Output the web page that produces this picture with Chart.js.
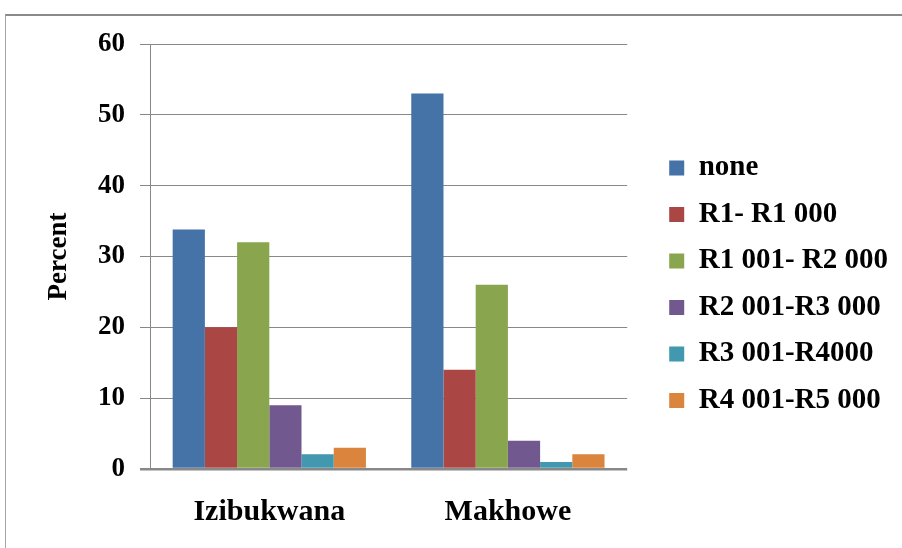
<!DOCTYPE html>
<html>
<head>
<meta charset="utf-8">
<script src="https://cdn.jsdelivr.net/npm/chart.js@4.4.1/dist/chart.umd.min.js"></script>
<style>
  html, body { margin: 0; padding: 0; background: #ffffff; overflow: hidden; }
  #frame {
    position: absolute; left: 5px; top: 14px; width: 1200px; height: 900px;
    border-top: 2px solid #8a8a8a; border-left: 1px solid #a6a6a6;
  }
  #wrap { position: absolute; left: 0; top: 0; width: 902px; height: 548px; }
</style>
</head>
<body>
<div id="frame"></div>
<div id="wrap"><canvas id="chart" width="902" height="548"></canvas></div>
<script>
// Monthly income groups by village (percent of households)
const categories = ['Izibukwana', 'Makhowe'];
const seriesNames = ['none', 'R1- R1 000', 'R1 001- R2 000', 'R2 001-R3 000', 'R3 001-R4000', 'R4 001-R5 000'];
const noneValues = [33.8, 53];
const r1To1000 = [20, 14];
const r1001To2000 = [32, 26];
const r2001To3000 = [9, 4];
const r3001To4000 = [2.1, 1];
const r4001To5000 = [3, 2.1];
const yTicks = [0, 10, 20, 30, 40, 50, 60];

const seriesValues = [noneValues, r1To1000, r1001To2000, r2001To3000, r3001To4000, r4001To5000];
const colors = ['#4572A7', '#AA4643', '#89A54E', '#71588F', '#4198AF', '#DB843D'];

const serif = '"Liberation Serif", "Times New Roman", serif';
const gridGray = '#888888';

new Chart(document.getElementById('chart'), {
  type: 'bar',
  data: {
    labels: categories,
    datasets: seriesNames.map((name, i) => ({
      label: name,
      data: seriesValues[i],
      backgroundColor: colors[i],
      borderWidth: 0,
      categoryPercentage: 0.81,
      barPercentage: 1.0
    }))
  },
  options: {
    responsive: false,
    animation: false,
    layout: { padding: { top: 44, left: 43, right: 4, bottom: 23.5 } },
    plugins: {
      tooltip: { enabled: false },
      legend: {
        position: 'right',
        maxWidth: 270,
        labels: {
          boxWidth: 15,
          boxHeight: 15,
          padding: 17.5,
          color: '#000000',
          font: { family: serif, size: 29, weight: 'bold' }
        }
      }
    },
    scales: {
      x: {
        grid: { display: false, drawTicks: false },
        border: { display: false },
        ticks: {
          padding: 25,
          color: '#000000',
          font: { family: serif, size: 30, weight: 'bold' }
        },
        afterFit: scale => { scale.height = 55.5; }
      },
      y: {
        min: 0,
        max: 60,
        afterBuildTicks: scale => { scale.ticks = yTicks.map(v => ({ value: v })); },
        grid: {
          color: gridGray,
          lineWidth: ctx => (ctx.tick && ctx.tick.value === 0 ? 2.5 : 1),
          tickLength: 10,
          drawTicks: true
        },
        border: { display: true, color: gridGray, width: 1 },
        ticks: {
          padding: 15,
          color: '#000000',
          font: { family: serif, size: 27, weight: 'bold' }
        },
        title: {
          display: true,
          text: 'Percent',
          color: '#000000',
          padding: { top: 0, bottom: 8 },
          font: { family: serif, size: 27, weight: 'bold' }
        },
        afterFit: scale => { scale.width = 107; }
      },
      gap: {
        position: 'right',
        display: true,
        grid: { display: false, drawTicks: false },
        border: { display: false },
        ticks: { display: false },
        afterFit: scale => { scale.width = 24.5; }
      }
    }
  }
});
</script>
</body>
</html>
